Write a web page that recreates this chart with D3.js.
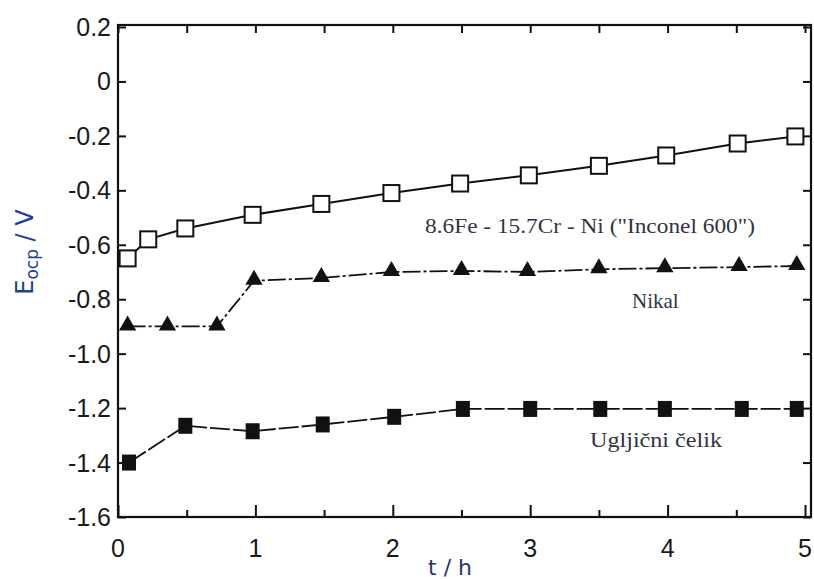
<!DOCTYPE html>
<html>
<head>
<meta charset="utf-8">
<script src="https://cdn.jsdelivr.net/npm/d3@7"></script>
<style>
  body { margin: 0; background: #fff; }
  svg { display: block; }
</style>
</head>
<body>
<div id="chart"></div>
<script>
// values
const inconelT = [0.07, 0.22, 0.49, 0.98, 1.48, 1.99, 2.49, 2.99, 3.50, 3.99, 4.51, 4.93];
const inconelE = [-0.65, -0.58, -0.54, -0.49, -0.45, -0.41, -0.375, -0.345, -0.31, -0.272, -0.228, -0.202];
const nikalT = [0.07, 0.36, 0.72, 0.99, 1.48, 1.99, 2.50, 2.98, 3.50, 3.98, 4.52, 4.94];
const nikalE = [-0.90, -0.90, -0.90, -0.732, -0.722, -0.70, -0.696, -0.70, -0.69, -0.686, -0.682, -0.678];
const celikT = [0.08, 0.49, 0.98, 1.49, 2.01, 2.51, 3.00, 3.51, 3.98, 4.54, 4.94];
const celikE = [-1.40, -1.265, -1.285, -1.26, -1.232, -1.203, -1.203, -1.203, -1.203, -1.203, -1.203];
const yTicks = [0.2, 0, -0.2, -0.4, -0.6, -0.8, -1.0, -1.2, -1.4, -1.6];
const yTickLabels = ["0.2", "0", "-0.2", "-0.4", "-0.6", "-0.8", "-1.0", "-1.2", "-1.4", "-1.6"];
const xTicks = [0, 1, 2, 3, 4, 5];
const xMinorTicks = [0.5, 1.5, 2.5, 3.5, 4.5];

const W = 814, H = 579;
const mLeft = 118, mRight = 811, mTop = 25, mBottom = 517;

const svg = d3.select("#chart").append("svg")
    .attr("width", W).attr("height", H);

const x = d3.scaleLinear().domain([0, 5]).range([mLeft, 805]);
const y = d3.scaleLinear().domain([-1.6, 0.2]).range([mBottom, mTop + 2]);

// frame
svg.append("rect")
    .attr("x", mLeft).attr("y", mTop)
    .attr("width", mRight - mLeft).attr("height", mBottom - mTop)
    .attr("fill", "none").attr("stroke", "#111").attr("stroke-width", 2.2);

// axes with inward ticks
svg.append("g").attr("transform", "translate(" + mLeft + ",0)")
    .call(d3.axisRight(y).tickValues(yTicks).tickSize(8).tickFormat(""));
svg.append("g").attr("transform", "translate(" + mRight + ",0)")
    .call(d3.axisLeft(y).tickValues(yTicks).tickSize(8).tickFormat(""));
svg.append("g").attr("transform", "translate(0," + mBottom + ")")
    .call(d3.axisTop(x).tickValues(xTicks).tickSize(12).tickFormat(""));
svg.append("g").attr("transform", "translate(0," + mBottom + ")")
    .call(d3.axisTop(x).tickValues(xMinorTicks).tickSize(7).tickFormat(""));
svg.append("g").attr("transform", "translate(0," + mTop + ")")
    .call(d3.axisBottom(x).tickValues(xTicks.concat(xMinorTicks)).tickSize(8).tickFormat(""));
svg.selectAll(".domain").remove();
svg.selectAll(".tick line").attr("stroke", "#111").attr("stroke-width", 2);

// tick labels
svg.append("g").selectAll("text").data(yTicks).enter().append("text")
    .attr("x", 111).attr("y", d => y(d) + 9)
    .attr("text-anchor", "end")
    .style("font-family", "Liberation Sans, Arial, sans-serif")
    .style("font-size", "25px").attr("fill", "#1a1a1a")
    .text((d, i) => yTickLabels[i]);
svg.append("g").selectAll("text").data(xTicks).enter().append("text")
    .attr("x", d => x(d)).attr("y", 557)
    .attr("text-anchor", "middle")
    .style("font-family", "Liberation Sans, Arial, sans-serif")
    .style("font-size", "25px").attr("fill", "#1a1a1a")
    .text(d => d);

// axis titles
svg.append("text")
    .attr("x", 450).attr("y", 575)
    .attr("text-anchor", "middle")
    .style("font-family", "DejaVu Sans, sans-serif")
    .style("font-size", "22px").attr("fill", "#2a3566")
    .text("t / h");
const yl = svg.append("text")
    .attr("transform", "translate(33,252) rotate(-90)")
    .attr("text-anchor", "middle")
    .style("font-family", "DejaVu Sans, sans-serif")
    .style("font-size", "24px").attr("fill", "#1f3f95");
yl.append("tspan").text("E");
yl.append("tspan").attr("dy", 5).style("font-size", "17px").text("ocp");
yl.append("tspan").attr("dy", -5).text(" / V");

// series
const line = d3.line().x(d => x(d[0])).y(d => y(d[1]));
const inconel = inconelT.map((t, i) => [t, inconelE[i]]);
const nikal = nikalT.map((t, i) => [t, nikalE[i]]);
const celik = celikT.map((t, i) => [t, celikE[i]]);

svg.append("path").datum(inconel).attr("d", line)
    .attr("fill", "none").attr("stroke", "#111").attr("stroke-width", 2);
svg.append("path").datum(nikal).attr("d", line)
    .attr("fill", "none").attr("stroke", "#111").attr("stroke-width", 1.8)
    .attr("stroke-dasharray", "18,3,3,3");
svg.append("path").datum(celik).attr("d", line)
    .attr("fill", "none").attr("stroke", "#111").attr("stroke-width", 1.8)
    .attr("stroke-dasharray", "20,3");

svg.append("g").selectAll("rect").data(inconel).enter().append("rect")
    .attr("x", d => x(d[0]) - 8).attr("y", d => y(d[1]) - 8)
    .attr("width", 16).attr("height", 16)
    .attr("fill", "#fff").attr("stroke", "#111").attr("stroke-width", 2);

const tri = d3.symbol().type(d3.symbolTriangle).size(130);
svg.append("g").selectAll("path").data(nikal).enter().append("path")
    .attr("d", tri)
    .attr("transform", d => "translate(" + x(d[0]) + "," + (y(d[1]) - 1) + ")")
    .attr("fill", "#111");

svg.append("g").selectAll("rect").data(celik).enter().append("rect")
    .attr("x", d => x(d[0]) - 7).attr("y", d => y(d[1]) - 8)
    .attr("width", 14).attr("height", 16)
    .attr("fill", "#111");

// annotations
const serif = "Liberation Serif, Times New Roman, serif";
svg.append("text").attr("x", 425).attr("y", 233)
    .attr("textLength", 330).attr("lengthAdjust", "spacingAndGlyphs")
    .style("font-family", serif).style("font-size", "21px").attr("fill", "#333344")
    .text("8.6Fe - 15.7Cr - Ni (\"Inconel 600\")");
svg.append("text").attr("x", 632).attr("y", 308)
    .style("font-family", serif).style("font-size", "21px").attr("fill", "#333344")
    .text("Nikal");
svg.append("text").attr("x", 590).attr("y", 447)
    .attr("textLength", 132).attr("lengthAdjust", "spacingAndGlyphs")
    .style("font-family", serif).style("font-size", "21px").attr("fill", "#333344")
    .text("Ugljični čelik");
</script>
</body>
</html>
